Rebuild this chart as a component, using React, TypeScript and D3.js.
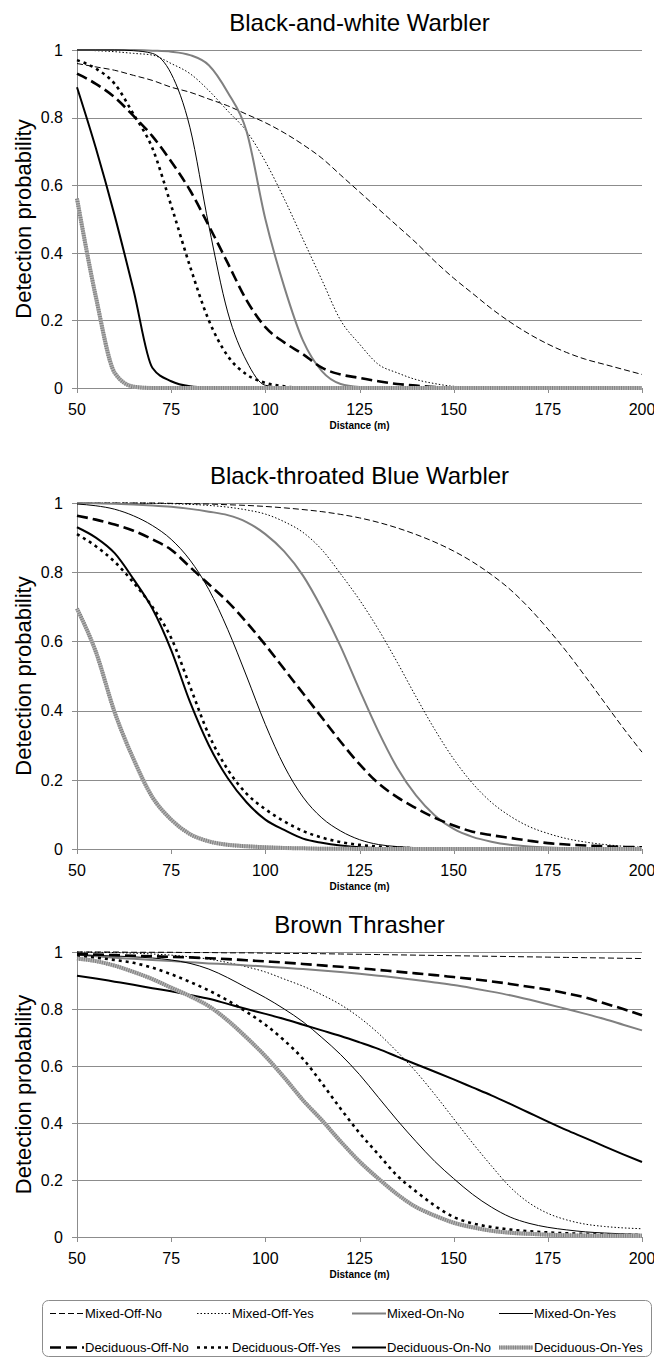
import React from 'react';
import * as d3 from 'd3';

// distance (m) at which each detection probability was read
const distance = [50, 55, 60, 65, 70, 75, 80, 85, 90, 95, 100, 105, 110, 115, 120, 125, 130, 135, 140, 145, 150, 155, 160, 165, 170, 175, 180, 185, 190, 195, 200];
const xTicks = [50, 75, 100, 125, 150, 175, 200];
const yTicks = [0, 0.2, 0.4, 0.6, 0.8, 1];
const yTickLabels = ['0', '0.2', '0.4', '0.6', '0.8', '1'];
const seriesNames = ['Mixed-Off-No', 'Mixed-Off-Yes', 'Mixed-On-No', 'Mixed-On-Yes', 'Deciduous-Off-No', 'Deciduous-Off-Yes', 'Deciduous-On-No', 'Deciduous-On-Yes'];
const titles = ['Black-and-white Warbler', 'Black-throated Blue Warbler', 'Brown Thrasher'];

// Black-and-white Warbler
const bawMixedOffNo = [0.96, 0.95, 0.94, 0.925, 0.91, 0.89, 0.875, 0.855, 0.835, 0.81, 0.785, 0.755, 0.72, 0.68, 0.63, 0.58, 0.53, 0.48, 0.43, 0.375, 0.325, 0.28, 0.235, 0.195, 0.16, 0.13, 0.105, 0.085, 0.07, 0.055, 0.04];
const bawMixedOffYes = [1, 0.998, 0.995, 0.99, 0.985, 0.96, 0.93, 0.88, 0.82, 0.76, 0.67, 0.56, 0.44, 0.32, 0.2, 0.13, 0.07, 0.045, 0.025, 0.013, 0.005, 0.003, 0.002, 0.001, 0, 0, 0, 0, 0, 0, 0];
const bawMixedOnNo = [1, 1, 1, 1, 0.998, 0.995, 0.985, 0.955, 0.875, 0.76, 0.5, 0.3, 0.14, 0.05, 0.012, 0.003, 0.001, 0, 0, 0, 0, 0, 0, 0, 0, 0, 0, 0, 0, 0, 0];
const bawMixedOnYes = [1, 1, 1, 0.998, 0.99, 0.93, 0.77, 0.48, 0.225, 0.08, 0.008, 0.002, 0, 0, 0, 0, 0, 0, 0, 0, 0, 0, 0, 0, 0, 0, 0, 0, 0, 0, 0];
const bawDecOffNo = [0.93, 0.9, 0.86, 0.805, 0.745, 0.67, 0.585, 0.48, 0.37, 0.26, 0.18, 0.135, 0.1, 0.06, 0.04, 0.03, 0.02, 0.012, 0.007, 0.003, 0.001, 0, 0, 0, 0, 0, 0, 0, 0, 0, 0];
const bawDecOffYes = [0.97, 0.945, 0.9, 0.81, 0.71, 0.54, 0.36, 0.2, 0.095, 0.04, 0.015, 0.005, 0, 0, 0, 0, 0, 0, 0, 0, 0, 0, 0, 0, 0, 0, 0, 0, 0, 0, 0];
const bawDecOnNo = [0.89, 0.71, 0.51, 0.29, 0.06, 0.02, 0.005, 0.001, 0, 0, 0, 0, 0, 0, 0, 0, 0, 0, 0, 0, 0, 0, 0, 0, 0, 0, 0, 0, 0, 0, 0];
const bawDecOnYes = [0.56, 0.27, 0.045, 0.004, 0, 0, 0, 0, 0, 0, 0, 0, 0, 0, 0, 0, 0, 0, 0, 0, 0, 0, 0, 0, 0, 0, 0, 0, 0, 0, 0];

// Black-throated Blue Warbler
const btbMixedOffNo = [1, 1, 1, 1, 1, 0.999, 0.998, 0.997, 0.995, 0.993, 0.99, 0.986, 0.981, 0.975, 0.967, 0.957, 0.944, 0.928, 0.909, 0.887, 0.861, 0.83, 0.793, 0.75, 0.697, 0.636, 0.57, 0.498, 0.424, 0.35, 0.28];
const btbMixedOffYes = [1, 1, 1, 1, 0.999, 0.998, 0.996, 0.993, 0.988, 0.98, 0.968, 0.946, 0.915, 0.865, 0.795, 0.72, 0.635, 0.54, 0.44, 0.345, 0.26, 0.19, 0.135, 0.095, 0.065, 0.045, 0.03, 0.02, 0.013, 0.008, 0.005];
const btbMixedOnNo = [1, 0.999, 0.998, 0.996, 0.993, 0.989, 0.983, 0.975, 0.965, 0.945, 0.91, 0.86, 0.79, 0.695, 0.585, 0.46, 0.34, 0.235, 0.155, 0.097, 0.058, 0.035, 0.021, 0.012, 0.007, 0.004, 0.002, 0.001, 0.001, 0.001, 0.001];
const btbMixedOnYes = [0.997, 0.992, 0.982, 0.963, 0.935, 0.895, 0.835, 0.75, 0.635, 0.5, 0.36, 0.24, 0.15, 0.09, 0.052, 0.027, 0.013, 0.007, 0.004, 0.002, 0.001, 0.001, 0.001, 0.001, 0.001, 0, 0, 0, 0, 0, 0];
const btbDecOffNo = [0.963, 0.952, 0.938, 0.92, 0.895, 0.865, 0.815, 0.765, 0.715, 0.655, 0.59, 0.52, 0.45, 0.38, 0.31, 0.245, 0.19, 0.15, 0.118, 0.09, 0.068, 0.05, 0.04, 0.032, 0.024, 0.017, 0.013, 0.01, 0.008, 0.006, 0.005];
const btbDecOffYes = [0.91, 0.875, 0.83, 0.77, 0.7, 0.61, 0.47, 0.33, 0.23, 0.16, 0.115, 0.08, 0.052, 0.033, 0.02, 0.012, 0.007, 0.004, 0.002, 0.001, 0.001, 0.001, 0, 0, 0, 0, 0, 0, 0, 0, 0];
const btbDecOnNo = [0.93, 0.9, 0.855, 0.78, 0.695, 0.575, 0.425, 0.3, 0.205, 0.135, 0.085, 0.055, 0.03, 0.018, 0.01, 0.005, 0.003, 0.002, 0.001, 0.001, 0, 0, 0, 0, 0, 0, 0, 0, 0, 0, 0];
const btbDecOnYes = [0.695, 0.57, 0.395, 0.26, 0.15, 0.085, 0.043, 0.022, 0.012, 0.008, 0.005, 0.003, 0.002, 0.001, 0.001, 0, 0, 0, 0, 0, 0, 0, 0, 0, 0, 0, 0, 0, 0, 0, 0];

// Brown Thrasher
const btMixedOffNo = [1, 1, 1, 0.999, 0.999, 0.999, 0.998, 0.998, 0.997, 0.997, 0.996, 0.995, 0.995, 0.994, 0.993, 0.992, 0.991, 0.99, 0.989, 0.988, 0.987, 0.986, 0.985, 0.984, 0.983, 0.982, 0.981, 0.98, 0.979, 0.978, 0.977];
const btMixedOffYes = [1, 0.999, 0.998, 0.996, 0.993, 0.989, 0.983, 0.975, 0.963, 0.948, 0.93, 0.905, 0.88, 0.85, 0.815, 0.77, 0.715, 0.65, 0.58, 0.5, 0.415, 0.33, 0.25, 0.175, 0.12, 0.083, 0.06, 0.045, 0.037, 0.032, 0.029];
const btMixedOnNo = [0.99, 0.985, 0.98, 0.976, 0.972, 0.968, 0.964, 0.96, 0.957, 0.953, 0.949, 0.945, 0.94, 0.935, 0.93, 0.924, 0.917, 0.91, 0.902, 0.893, 0.884, 0.873, 0.861, 0.848, 0.833, 0.817, 0.8, 0.783, 0.765, 0.745, 0.725];
const btMixedOnYes = [0.99, 0.988, 0.986, 0.983, 0.979, 0.972, 0.96, 0.94, 0.91, 0.875, 0.84, 0.8, 0.755, 0.7, 0.64, 0.57, 0.49, 0.41, 0.335, 0.265, 0.205, 0.15, 0.105, 0.07, 0.048, 0.034, 0.025, 0.018, 0.014, 0.011, 0.009];
const btDecOffNo = [0.993, 0.991, 0.989, 0.987, 0.985, 0.983, 0.981, 0.978, 0.975, 0.971, 0.967, 0.963, 0.958, 0.953, 0.948, 0.943, 0.937, 0.931, 0.925, 0.919, 0.912, 0.905, 0.897, 0.888, 0.878, 0.868, 0.855, 0.84, 0.82, 0.8, 0.778];
const btDecOffYes = [0.985, 0.98, 0.972, 0.962, 0.945, 0.922, 0.895, 0.865, 0.83, 0.79, 0.745, 0.69, 0.625, 0.54, 0.45, 0.365, 0.29, 0.215, 0.16, 0.11, 0.07, 0.048, 0.035, 0.026, 0.02, 0.016, 0.013, 0.011, 0.009, 0.008, 0.007];
const btDecOnNo = [0.917, 0.907, 0.896, 0.885, 0.873, 0.862, 0.849, 0.836, 0.818, 0.8, 0.783, 0.765, 0.745, 0.725, 0.705, 0.683, 0.66, 0.633, 0.606, 0.58, 0.553, 0.525, 0.497, 0.467, 0.436, 0.405, 0.375, 0.347, 0.318, 0.29, 0.263];
const btDecOnYes = [0.977, 0.968, 0.952, 0.93, 0.905, 0.875, 0.845, 0.81, 0.76, 0.7, 0.635, 0.56, 0.48, 0.41, 0.335, 0.265, 0.205, 0.15, 0.105, 0.075, 0.05, 0.034, 0.022, 0.015, 0.011, 0.008, 0.006, 0.005, 0.004, 0.004, 0.004];

const panelSeries = [
  [bawMixedOffNo, bawMixedOffYes, bawMixedOnNo, bawMixedOnYes, bawDecOffNo, bawDecOffYes, bawDecOnNo, bawDecOnYes],
  [btbMixedOffNo, btbMixedOffYes, btbMixedOnNo, btbMixedOnYes, btbDecOffNo, btbDecOffYes, btbDecOnNo, btbDecOnYes],
  [btMixedOffNo, btMixedOffYes, btMixedOnNo, btMixedOnYes, btDecOffNo, btDecOffYes, btDecOnNo, btDecOnYes],
];

const FONT = '"Liberation Sans", Arial, Helvetica, sans-serif';
const GRID = '#8c8c8c';

// line look for each series, in legend order
const lineStyles = [
  { stroke: '#000', width: 1, dash: '6,3' },
  { stroke: '#000', width: 1, dash: '1.5,2' },
  { stroke: '#808080', width: 2, dash: undefined },
  { stroke: '#000', width: 1, dash: undefined },
  { stroke: '#000', width: 2.6, dash: '11,5' },
  { stroke: '#000', width: 2.6, dash: '3,4' },
  { stroke: '#000', width: 2, dash: undefined },
  { stroke: '#b4b4b4', width: 4, dash: undefined, hatch: true },
];

// vertical placement of each panel
const panelBoxes = [
  { top: 50, bottom: 388 },
  { top: 503, bottom: 849 },
  { top: 952, bottom: 1237 },
];
const plotLeft = 77;
const plotRight = 642;
const crisp = (v: number) => Math.round(v) + 0.5;

function StyledPath({ d, idx }: { d: string; idx: number }) {
  const s = lineStyles[idx];
  if (s.hatch) {
    return (
      <g>
        <path d={d} fill="none" stroke={s.stroke} strokeWidth={s.width} />
        <path d={d} fill="none" stroke="#808080" strokeWidth={s.width} strokeDasharray="1,1.3" />
      </g>
    );
  }
  return <path d={d} fill="none" stroke={s.stroke} strokeWidth={s.width} strokeDasharray={s.dash} />;
}

function Panel({ p }: { p: number }) {
  const { top, bottom } = panelBoxes[p];
  const x = d3.scaleLinear().domain([50, 200]).range([plotLeft, plotRight]);
  const y = d3.scaleLinear().domain([0, 1]).range([bottom, top]);
  const line = d3
    .line<number>()
    .x((_, i) => x(distance[i]))
    .y((v) => y(v))
    .curve(d3.curveMonotoneX);
  const midX = (plotLeft + plotRight) / 2;
  const midY = (top + bottom) / 2;

  return (
    <g>
      <text x={midX} y={top - 19} textAnchor="middle" fontSize={24} fontFamily={FONT}>
        {titles[p]}
      </text>
      {yTicks.map((t) => (
        <line key={'g' + t} x1={plotLeft - 5} x2={plotRight} y1={crisp(y(t))} y2={crisp(y(t))} stroke={GRID} strokeWidth={1} />
      ))}
      <line x1={crisp(plotLeft)} x2={crisp(plotLeft)} y1={top} y2={bottom} stroke={GRID} strokeWidth={1} />
      {xTicks.map((t) => (
        <line key={'x' + t} x1={crisp(x(t))} x2={crisp(x(t))} y1={bottom} y2={bottom + 5} stroke={GRID} strokeWidth={1} />
      ))}
      {yTicks.map((t, i) => (
        <text key={'yl' + t} x={plotLeft - 14} y={y(t)} dy="0.36em" textAnchor="end" fontSize={16} fontFamily={FONT}>
          {yTickLabels[i]}
        </text>
      ))}
      {xTicks.map((t) => (
        <text key={'xl' + t} x={x(t)} y={bottom + 21} dy="0.36em" textAnchor="middle" fontSize={16} fontFamily={FONT}>
          {t}
        </text>
      ))}
      <text x={midX} y={bottom + 37} dy="0.36em" textAnchor="middle" fontSize={10} fontWeight="bold" fontFamily={FONT}>
        Distance (m)
      </text>
      <text
        transform={`translate(23,${midY}) rotate(-90)`}
        dy="0.36em"
        textAnchor="middle"
        fontSize={22}
        fontFamily={FONT}
      >
        Detection probability
      </text>
      {panelSeries[p].map((vals, i) => (
        <StyledPath key={i} d={line(vals) || ''} idx={i} />
      ))}
    </g>
  );
}

function Legend() {
  const colX = [50, 197, 352, 499];
  const rowY = [1313.5, 1347.5];
  return (
    <g>
      <rect x={42.5} y={1300.5} width={609} height={56} rx={6} fill="#fff" stroke={GRID} strokeWidth={1} />
      {seriesNames.map((name, i) => {
        const cx = colX[i % 4];
        const cy = rowY[Math.floor(i / 4)];
        return (
          <g key={name}>
            <StyledPath d={`M${cx},${cy}H${cx + 34}`} idx={i} />
            <text x={cx + 35} y={cy} dy="0.36em" fontSize={13} fontFamily={FONT}>
              {name}
            </text>
          </g>
        );
      })}
    </g>
  );
}

export default function App() {
  return (
    <svg width={654} height={1358} style={{ position: 'absolute', left: 0, top: 0, background: '#fff' }}>
      <rect width={654} height={1358} fill="#fff" />
      {[0, 1, 2].map((p) => (
        <Panel key={p} p={p} />
      ))}
      <Legend />
    </svg>
  );
}
